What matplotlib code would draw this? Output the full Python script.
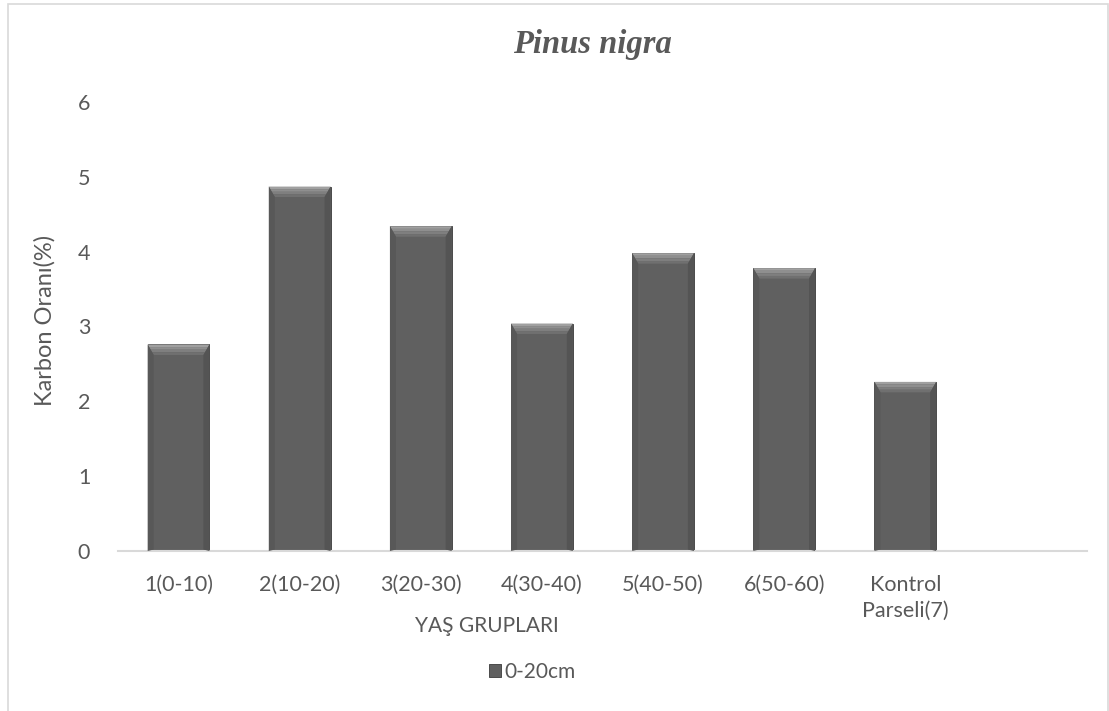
import numpy as np
import matplotlib.pyplot as plt
from matplotlib.patches import Polygon, Rectangle

# age groups and mean carbon ratio (%) for the 0-20 cm layer
groups = ["1(0-10)", "2(10-20)", "3(20-30)", "4(30-40)", "5(40-50)",
          "6(50-60)", "Kontrol\nParseli(7)"]
carbon_0_20 = [2.76, 4.87, 4.34, 3.04, 3.98, 3.78, 2.26]
yticks = [0, 1, 2, 3, 4, 5, 6]

txt = "#595959"
plt.rcParams["font.family"] = ["Lato", "DejaVu Sans"]

fig = plt.figure(figsize=(11.09, 7.11), dpi=100)
ax = fig.add_axes([118 / 1109, 1 - 551 / 711, 969 / 1109, 449 / 711])

# outer chart frame
fig.patches.append(Rectangle((8 / 1109, -0.01), 1100 / 1109, 1 - 4 / 711 + 0.01,
                             transform=fig.transFigure, fill=False,
                             edgecolor="#d9d9d9", linewidth=1.2))

x = np.arange(len(groups))
width = 0.51
bars = ax.bar(x, carbon_0_20, width=width, color="#606060",
              edgecolor="#4a4a4a", linewidth=0.7, label="0-20cm", zorder=2)

# bevel look: lighter top face, slightly darker sides
dx = 0.05
dy = 0.14
top_shades = ["#a0a0a0", "#8f8f8f", "#7f7f7f", "#707070"]
for xi, v in zip(x, carbon_0_20):
    l, r = xi - width / 2, xi + width / 2
    n = len(top_shades)
    for k, c in enumerate(top_shades):
        y0 = v - dy * k / n
        y1 = v - dy * (k + 1) / n
        i0 = dx * k / n
        i1 = dx * (k + 1) / n
        ax.add_patch(Polygon([(l + i0, y0), (r - i0, y0), (r - i1, y1), (l + i1, y1)],
                             closed=True, facecolor=c, edgecolor="none", zorder=3))
    ax.add_patch(Polygon([(l, v), (l + dx, v - dy), (l + dx, 0.02), (l, 0)],
                         closed=True, facecolor="#585858", edgecolor="none", zorder=3))
    ax.add_patch(Polygon([(r, v), (r - dx, v - dy), (r - dx, 0.02), (r, 0)],
                         closed=True, facecolor="#545454", edgecolor="none", zorder=3))

ax.set_xlim(-0.5, 7.5)
ax.set_ylim(0, 6)
ax.set_yticks(yticks)
ax.set_xticks(x)
ax.set_xticklabels(groups, fontsize=15.5, color=txt, va="top", linespacing=1.4)
ax.tick_params(axis="x", length=0, pad=17)
ax.tick_params(axis="y", length=0, pad=20, labelsize=15.5, labelcolor=txt)

for s in ["top", "right", "left"]:
    ax.spines[s].set_visible(False)
ax.spines["bottom"].set_color("#d9d9d9")
ax.spines["bottom"].set_linewidth(1.5)

fig.text(592 / 1109, 1 - 45 / 711, "Pinus nigra", ha="center", va="center",
         fontsize=23.5, fontweight="bold", fontstyle="italic",
         family="Liberation Serif", color=txt)
fig.text(487 / 1109, 1 - 626 / 711, "YAŞ GRUPLARI", ha="center", va="center",
         fontsize=15, color=txt)
fig.text(45 / 1109, 1 - 320 / 711, "Karbon Oranı(%)", ha="center", va="center",
         rotation=90, fontsize=17, color=txt)

ax.legend(loc="center", bbox_to_anchor=(532 / 1109, 1 - 672 / 711),
          bbox_transform=fig.transFigure, frameon=False, fontsize=15,
          labelcolor=txt, handlelength=0.6, handleheight=0.6, handletextpad=0.15)

fig.savefig("out.png", dpi=100)
